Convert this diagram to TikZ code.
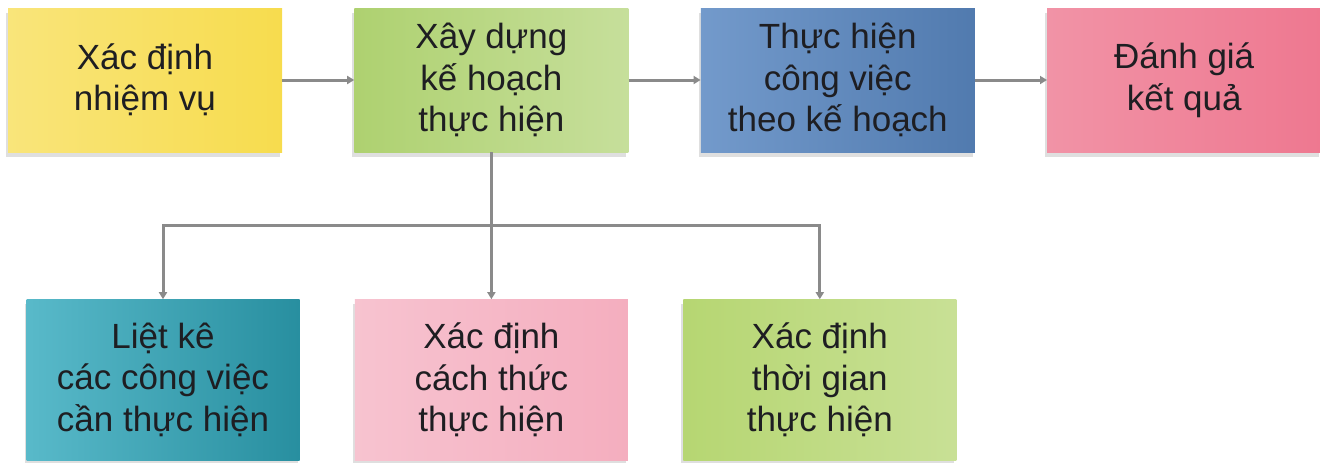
\documentclass[tikz,border=0pt]{standalone}
\usepackage{fontspec}
\setmainfont{Liberation Sans}
\usetikzlibrary{positioning,calc,arrows.meta,shadows}
\definecolor{taskyellow}{HTML}{F7DC4E}
\definecolor{planlime}{HTML}{AED170}
\definecolor{workblue}{HTML}{5A88C2}
\definecolor{evalrose}{HTML}{EE7890}
\definecolor{listteal}{HTML}{2FA8BC}
\definecolor{howpink}{HTML}{F5B4C4}
\definecolor{timelime}{HTML}{B6D672}
\definecolor{linkgray}{HTML}{8A8A8A}
\definecolor{inkdark}{HTML}{1E1E22}

\begin{document}
\begin{tikzpicture}[x=1pt,y=1pt,node distance=72pt,
  stepbox/.style={minimum width=274pt,minimum height=144pt,align=center,text=inkdark,
    font=\fontsize{35}{41.5}\selectfont,
    drop shadow={shadow xshift=-2pt,shadow yshift=-5pt,opacity=0.25}},
  link/.style={-{Triangle[length=7pt,width=8pt]},line width=3pt,linkgray}]
\useasboundingbox (0,0) rectangle (1320,-463);
\node[stepbox,left color=taskyellow!75!white,right color=taskyellow] (task) at (145,-80) {Xác định\\nhiệm vụ};
\node[stepbox,left color=planlime,right color=planlime!70!white,right=of task] (plan) {Xây dựng\\kế hoạch\\thực hiện};
\node[stepbox,left color=workblue!85!white,right color=workblue!90!black,right=of plan] (work) {Thực hiện\\công việc\\theo kế hoạch};
\node[stepbox,left color=evalrose!80!white,right color=evalrose,right=of work] (eval) {Đánh giá\\kết quả};
\node[stepbox,minimum width=273pt,minimum height=161pt,left color=howpink!80!white,right color=howpink!90!evalrose,below=147pt of plan] (how) {Xác định\\cách thức\\thực hiện};
\node[stepbox,minimum width=273pt,minimum height=161pt,left color=listteal!80!white,right color=listteal!85!black,left=55pt of how] (list) {Liệt kê\\các công việc\\cần thực hiện};
\node[stepbox,minimum width=273pt,minimum height=161pt,left color=timelime,right color=timelime!75!white,right=55pt of how] (time) {Xác định\\thời gian\\thực hiện};
\coordinate (bus) at ($(plan.south)!0.5!(how.north)$);
\draw[link] (task)--(plan);
\draw[link] (plan)--(work);
\draw[link] (work)--(eval);
\draw[link] (plan.south)--(how.north);
\draw[link] (bus)-|(list.north);
\draw[link] (bus)-|(time.north);
\end{tikzpicture}
\end{document}
